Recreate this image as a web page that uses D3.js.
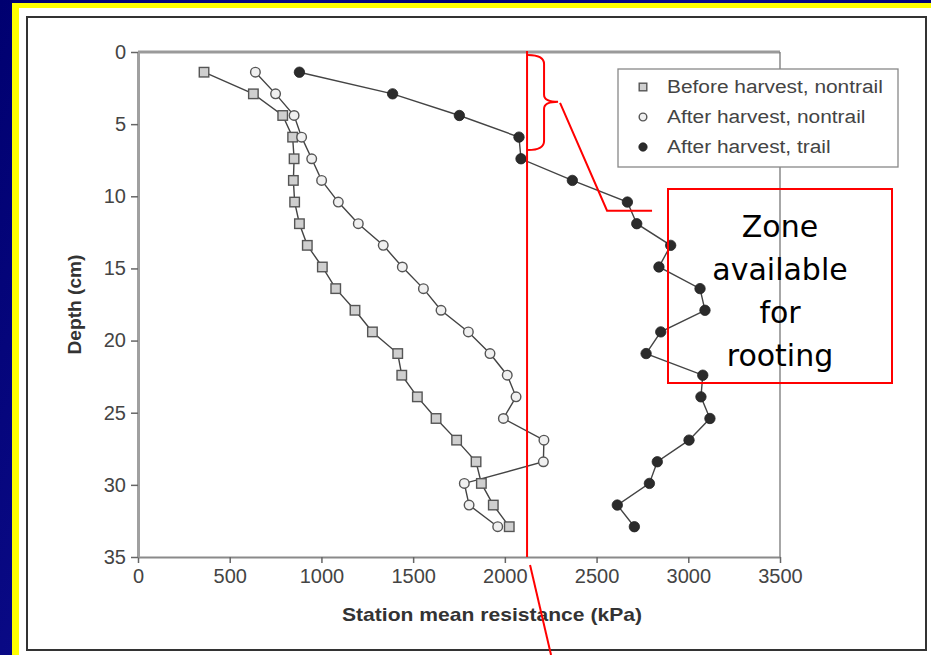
<!DOCTYPE html>
<html>
<head>
<meta charset="utf-8">
<script src="https://cdn.jsdelivr.net/npm/d3@7"></script>
<style>
  html, body { margin: 0; padding: 0; background: #000078; }
  svg { display: block; }
</style>
</head>
<body>
<div id="chart"></div>
<script>
// Depth of each station (cm)
const depths = [1.4, 2.9, 4.4, 5.9, 7.4, 8.9, 10.4, 11.9, 13.4, 14.9, 16.4,
                17.9, 19.4, 20.9, 22.4, 23.9, 25.4, 26.9, 28.4, 29.9, 31.4, 32.9];

// Station mean resistance (kPa) per series
const beforeNontrail = [360, 629, 789, 843, 851, 847, 854, 880, 923, 1005, 1078,
                        1183, 1278, 1416, 1438, 1523, 1625, 1737, 1843, 1872, 1937, 2024];
const afterNontrail = [640, 750, 851, 892, 947, 1001, 1092, 1201, 1337, 1441, 1556,
                       1652, 1801, 1919, 2013, 2061, 1992, 2213, 2210, 1779, 1805, 1961];
const afterTrail = [880, 1388, 1752, 2077, 2088, 2368, 2668, 2719, 2904, 2840, 3064,
                    3091, 2850, 2770, 3079, 3069, 3118, 3004, 2831, 2788, 2613, 2706];

const xTicks = [0, 500, 1000, 1500, 2000, 2500, 3000, 3500];
const yTicks = [0, 5, 10, 15, 20, 25, 30, 35];

const seriesNames = ["Before harvest, nontrail", "After harvest, nontrail", "After harvest, trail"];
const zoneLines = ["Zone", "available", "for", "rooting"];

const W = 931, H = 655;

const svg = d3.select("#chart").append("svg")
    .attr("width", W)
    .attr("height", H);

// Slide background: navy with faint streaks
const defs = svg.append("defs");
const grad = defs.append("linearGradient")
    .attr("id", "bg")
    .attr("x1", "0%").attr("y1", "0%").attr("x2", "100%").attr("y2", "30%");
[["0%", "#000070"], ["30%", "#0a0a86"], ["45%", "#000074"], ["70%", "#0c0c8c"], ["100%", "#00006e"]]
    .forEach(([o, c]) => grad.append("stop").attr("offset", o).attr("stop-color", c));

svg.append("rect").attr("width", W).attr("height", H).attr("fill", "url(#bg)");

// Yellow border and white slide
svg.append("rect").attr("x", 12).attr("y", 3).attr("width", W).attr("height", H).attr("fill", "#ffff00");
svg.append("rect").attr("x", 19).attr("y", 8).attr("width", W).attr("height", H).attr("fill", "#ffffff");
svg.append("rect").attr("x", 27).attr("y", 17).attr("width", 899).attr("height", 633)
    .attr("fill", "none").attr("stroke", "#333").attr("stroke-width", 2);

// Scales
const x = d3.scaleLinear().domain([0, 3500]).range([138, 780]);
const y = d3.scaleLinear().domain([0, 35]).range([52, 557]);

const tickFont = "'Liberation Sans', Arial, sans-serif";

// Stretch a text horizontally to mimic the wide scanned lettering
const stretch = (sel, k) => sel.each(function () {
    const len = this.getComputedTextLength();
    d3.select(this).attr("textLength", len * k).attr("lengthAdjust", "spacingAndGlyphs");
});

// Frame top and right
svg.append("line").attr("x1", x(0)).attr("x2", x(3500)).attr("y1", y(0)).attr("y2", y(0))
    .attr("stroke", "#9a9a9a").attr("stroke-width", 3);
svg.append("line").attr("x1", x(3500)).attr("x2", x(3500)).attr("y1", y(0)).attr("y2", y(35))
    .attr("stroke", "#777").attr("stroke-width", 1.3);

// Axes
const xAxis = svg.append("g")
    .attr("transform", `translate(0,${y(35)})`)
    .call(d3.axisBottom(x).tickValues(xTicks).tickFormat(d3.format("d"))
        .tickSize(6).tickPadding(6).tickSizeOuter(0));
const yAxis = svg.append("g")
    .attr("transform", `translate(${x(0)},0)`)
    .call(d3.axisLeft(y).tickValues(yTicks).tickFormat(d3.format("d"))
        .tickSize(7).tickPadding(5).tickSizeOuter(0));

xAxis.select(".domain").attr("stroke", "#8a8a8a").attr("stroke-width", 2);
yAxis.select(".domain").attr("stroke", "#a0a0a0").attr("stroke-width", 3);
[xAxis, yAxis].forEach(g => {
    g.selectAll(".tick line").attr("stroke", "#666").attr("stroke-width", 1.5);
    g.selectAll(".tick text")
        .attr("fill", "#444")
        .style("font-family", tickFont)
        .style("font-size", "20px");
});

// Axis titles
svg.append("text")
    .attr("x", 492)
    .attr("y", 621)
    .attr("text-anchor", "middle")
    .attr("fill", "#333")
    .style("font-family", tickFont)
    .style("font-weight", "bold")
    .style("font-size", "19px")
    .text("Station mean resistance (kPa)")
    .attr("textLength", 300)
    .attr("lengthAdjust", "spacingAndGlyphs");

svg.append("text")
    .attr("transform", `translate(81,${(y(0) + y(35)) / 2}) rotate(-90)`)
    .attr("text-anchor", "middle")
    .attr("fill", "#333")
    .style("font-family", tickFont)
    .style("font-weight", "bold")
    .style("font-size", "19px")
    .text("Depth (cm)")
    .attr("textLength", 100)
    .attr("lengthAdjust", "spacingAndGlyphs");

// Series lines and markers
const line = d3.line().x(d => x(d.v)).y(d => y(d.depth));
const toPoints = vals => vals.map((v, i) => ({ v, depth: depths[i] }));

const series = [
    { name: seriesNames[0], pts: toPoints(beforeNontrail), shape: "square" },
    { name: seriesNames[1], pts: toPoints(afterNontrail), shape: "circle" },
    { name: seriesNames[2], pts: toPoints(afterTrail), shape: "dot" }
];

series.forEach(s => {
    svg.append("path")
        .datum(s.pts)
        .attr("d", line)
        .attr("fill", "none")
        .attr("stroke", "#444")
        .attr("stroke-width", 1.4);
});

const drawMarker = (g, shape, cx, cy, scale) => {
    if (shape === "square") {
        const s = 9.5 * scale;
        g.append("rect").attr("x", cx - s / 2).attr("y", cy - s / 2).attr("width", s).attr("height", s)
            .attr("fill", "#cfcfcf").attr("stroke", "#555").attr("stroke-width", 1.4);
    } else if (shape === "circle") {
        g.append("circle").attr("cx", cx).attr("cy", cy).attr("r", 4.8 * scale)
            .attr("fill", "#f0f0f0").attr("stroke", "#555").attr("stroke-width", 1.4);
    } else {
        g.append("circle").attr("cx", cx).attr("cy", cy).attr("r", 5.2 * scale)
            .attr("fill", "#2b2b2b").attr("stroke", "#222").attr("stroke-width", 0.8);
    }
};

const markers = svg.append("g");
series.forEach(s => {
    s.pts.forEach(p => drawMarker(markers, s.shape, x(p.v), y(p.depth), 1));
});

// Legend
const legend = svg.append("g");
legend.append("rect").attr("x", 618).attr("y", 69).attr("width", 280).attr("height", 98)
    .attr("fill", "#fff").attr("stroke", "#888").attr("stroke-width", 1.3);
series.forEach((s, i) => {
    const ly = 87 + i * 30;
    drawMarker(legend, s.shape, 643, ly, 0.8);
    legend.append("text")
        .attr("x", 667).attr("y", ly + 6)
        .attr("fill", "#444")
        .style("font-family", tickFont)
        .style("font-size", "18px")
        .text(s.name)
        .call(stretch, 1.16);
});

// Red annotations
const red = svg.append("g").attr("fill", "none").attr("stroke", "#ff0000").attr("stroke-width", 2);
const cutX = x(2121);
red.append("line").attr("x1", cutX).attr("x2", cutX).attr("y1", y(0) - 1).attr("y2", y(35));
red.append("line").attr("x1", cutX + 3).attr("y1", y(35) + 8).attr("x2", cutX + 24).attr("y2", H);

// Curly brace over the top compacted layer
const bTop = y(0.2), bBot = y(6.8), bMid = y(3.45);
const bx0 = cutX + 1, bx1 = cutX + 17, bTip = cutX + 31;
red.append("path").attr("d",
    `M${bx0},${bTop} Q${bx1},${bTop} ${bx1},${bTop + 9}
     L${bx1},${bMid - 7} Q${bx1},${bMid} ${bTip},${bMid}
     Q${bx1},${bMid} ${bx1},${bMid + 7}
     L${bx1},${bBot - 9} Q${bx1},${bBot} ${bx0},${bBot}`);
red.append("polyline").attr("points",
    `${bTip + 2},${bMid + 1} ${cutX + 80},${y(11)} ${cutX + 125},${y(11)}`);

// Zone box
const zone = { x0: 668, y0: 189, x1: 892, y1: 383 };
red.append("rect").attr("x", zone.x0).attr("y", zone.y0)
    .attr("width", zone.x1 - zone.x0).attr("height", zone.y1 - zone.y0);
svg.append("g").selectAll("text")
    .data(zoneLines)
    .join("text")
    .attr("x", (zone.x0 + zone.x1) / 2)
    .attr("y", (d, i) => 237 + i * 43)
    .attr("text-anchor", "middle")
    .attr("fill", "#000")
    .style("font-family", "'Comic Sans MS', 'DejaVu Sans', sans-serif")
    .style("font-size", "30px")
    .text(d => d);
</script>
</body>
</html>
